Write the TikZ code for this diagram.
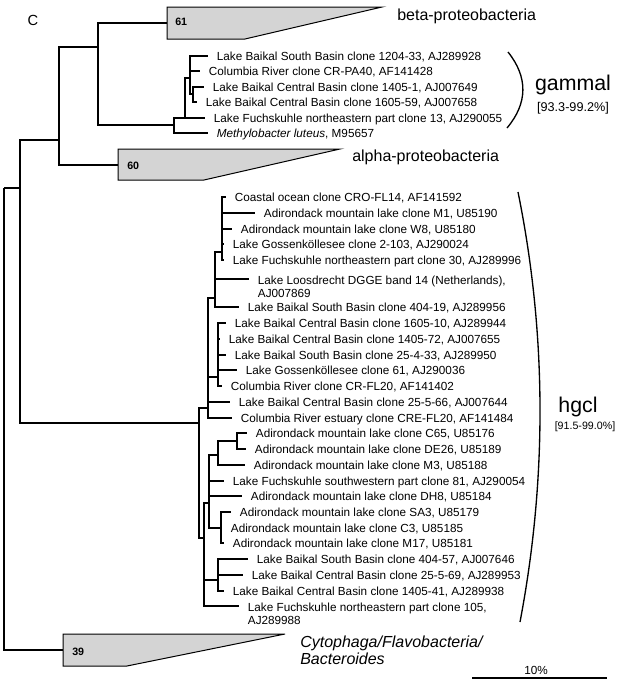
\documentclass[tikz,border=0pt]{standalone}
\usepackage{fontspec}
\setmainfont{Liberation Sans}
\begin{document}
\begin{tikzpicture}[x=0.75pt, y=-0.75pt,
    branch/.style={line width=1.1pt},
    leaf/.style={anchor=west, inner xsep=6.5pt, inner ysep=0pt, text height=7pt, text depth=0pt, font=\fontsize{8.8}{10.1}\selectfont},
    twoline/.style={anchor=north west, inner xsep=6.5pt, inner ysep=0pt, align=left, font=\fontsize{8.8}{10.1}\selectfont},
    clade/.style={draw, line width=0.75pt, fill=black!17},
    cladenum/.style={anchor=west, inner sep=0pt, font=\fontsize{8}{9}\selectfont\bfseries},
    group/.style={anchor=west, inner sep=0pt, font=\fontsize{12}{12.75}\selectfont},
    bigname/.style={anchor=base, inner sep=0pt, font=\fontsize{16}{18}\selectfont},
    simrange/.style={anchor=base, inner sep=0pt, font=\fontsize{9.5}{11}\selectfont},
    bracket/.style={line width=1pt}]
    \useasboundingbox (0,0) rectangle (620,686);
    \node[font=\fontsize{11}{13}\selectfont] (panel) at (33,20) {C};

    % collapsed clades
    \coordinate (beta) at (167,23);
    \coordinate (alpha) at (118,165);
    \coordinate (cyto) at (63,650);
    \draw[clade] (beta) ++(0,-16) -- ++(215,0) -- ++(-137,32) -- ++(-78,0) -- cycle;
    \draw[clade] (alpha) ++(0,-16) -- ++(222,0) -- ++(-136,31) -- ++(-86,0) -- cycle;
    \draw[clade] (cyto) ++(0,-16) -- ++(222,0) -- ++(-158,32) -- ++(-64,0) -- cycle;
    \node[cladenum] (n61) at (175,22) {61};
    \node[cladenum] (n60) at (127,166) {60};
    \node[cladenum] (n39) at (72,652) {39};
    \node[group] (betalab) at (397,16) {beta-proteobacteria};
    \node[group] (alphalab) at (352,157) {alpha-proteobacteria};
    \node[group, anchor=north west, align=left, font=\fontsize{12}{12.75}\selectfont\itshape] (cytolab) at (300,636)
        {Cytophaga/Flavobacteria/\\Bacteroides};

    % gammal leaves
    \node[leaf] (g1) at (208,56) {Lake Baikal South Basin clone 1204-33, AJ289928};
    \node[leaf] (g2) at (200,71) {Columbia River clone CR-PA40, AF141428};
    \node[leaf] (g3) at (204,87) {Lake Baikal Central Basin clone 1405-1, AJ007649};
    \node[leaf] (g4) at (197,102) {Lake Baikal Central Basin clone 1605-59, AJ007658};
    \node[leaf] (g5) at (205,118) {Lake Fuchskuhle northeastern part clone 13, AJ290055};
    \node[leaf] (g6) at (208,133) {\textit{Methylobacter luteus}, M95657};

    % hgcl leaves
    \node[leaf] (h1) at (226,197) {Coastal ocean clone CRO-FL14, AF141592};
    \node[leaf] (h2) at (255,213) {Adirondack mountain lake clone M1, U85190};
    \node[leaf] (h3) at (232,229) {Adirondack mountain lake clone W8, U85180};
    \node[leaf] (h4) at (224,244) {Lake Gossenköllesee clone 2-103, AJ290024};
    \node[leaf] (h5) at (224,260) {Lake Fuchskuhle northeastern part clone 30, AJ289996};
    \node[twoline] (h6) at (249,275.4) {Lake Loosdrecht DGGE band 14 (Netherlands),\\AJ007869};
    \node[leaf] (h7) at (239,307) {Lake Baikal South Basin clone 404-19, AJ289956};
    \node[leaf] (h8) at (226,323) {Lake Baikal Central Basin clone 1605-10, AJ289944};
    \node[leaf] (h9) at (220,339) {Lake Baikal Central Basin clone 1405-72, AJ007655};
    \node[leaf] (h10) at (226,355) {Lake Baikal South Basin clone 25-4-33, AJ289950};
    \node[leaf] (h11) at (237,370) {Lake Gossenköllesee clone 61, AJ290036};
    \node[leaf] (h12) at (222,386) {Columbia River clone CR-FL20, AF141402};
    \node[leaf] (h13) at (230,402) {Lake Baikal Central Basin clone 25-5-66, AJ007644};
    \node[leaf] (h14) at (232,418) {Columbia River estuary clone CRE-FL20, AF141484};
    \node[leaf] (h15) at (247,433) {Adirondack mountain lake clone C65, U85176};
    \node[leaf] (h16) at (246,449) {Adirondack mountain lake clone DE26, U85189};
    \node[leaf] (h17) at (245,465) {Adirondack mountain lake clone M3, U85188};
    \node[leaf] (h18) at (224,481) {Lake Fuchskuhle southwestern part clone 81, AJ290054};
    \node[leaf] (h19) at (242,496) {Adirondack mountain lake clone DH8, U85184};
    \node[leaf] (h20) at (231,512) {Adirondack mountain lake clone SA3, U85179};
    \node[leaf] (h21) at (222,528) {Adirondack mountain lake clone C3, U85185};
    \node[leaf] (h22) at (224,543) {Adirondack mountain lake clone M17, U85181};
    \node[leaf] (h23) at (248,559) {Lake Baikal South Basin clone 404-57, AJ007646};
    \node[leaf] (h24) at (243,575) {Lake Baikal Central Basin clone 25-5-69, AJ289953};
    \node[leaf] (h25) at (224,591) {Lake Baikal Central Basin clone 1405-41, AJ289938};
    \node[twoline] (h26) at (239,602.4) {Lake Fuchskuhle northeastern part clone 105,\\AJ289988};

    % inner nodes
    \coordinate (root) at (4,188);
    \coordinate (nA) at (20,188);
    \coordinate (proteo) at (59,140);
    \coordinate (betagam) at (98,47);
    \coordinate (gam) at (174,125);
    \coordinate (gB) at (185,118);
    \coordinate (gA) at (190,78);
    \coordinate (gAa) at (193,94);
    \coordinate (hgcl) at (199,423);
    \coordinate (hI) at (208,408);
    \coordinate (hJ) at (215,298);
    \coordinate (hL) at (222,252);
    \coordinate (hK) at (218,377);
    \coordinate (hM) at (204,538);
    \coordinate (hN) at (209,503);
    \coordinate (hO) at (218,455);
    \coordinate (hR) at (237,441);
    \coordinate (hP) at (221,528);
    \coordinate (hQ) at (218,580);

    % branches
    \draw[branch]
        (root) |- (nA)
        (root) |- (cyto)
        (nA) |- (proteo)
        (nA) |- (hgcl)
        (proteo) |- (betagam)
        (proteo) |- (alpha)
        (betagam) |- (beta)
        (betagam) |- (gam);
    \draw[branch]
        (gam) |- (gB)
        (gam) |- (g6.west)
        (gB) |- (gA)
        (gB) |- (g5.west)
        (gA) |- (g1.west)
        (gA) |- (g2.west)
        (gA) |- (gAa)
        (gAa) |- (g3.west)
        (gAa) |- (g4.west);
    \draw[branch]
        (hgcl) |- (hI)
        (hgcl) |- (hM)
        (hI) |- (hJ)
        (hI) |- (hK)
        (hI) |- (h13.west)
        (hI) |- (h14.west)
        (hJ) |- (hL)
        (hJ) |- ([yshift=-2.7pt]h6.north west)
        (hJ) |- (h7.west)
        (hL) |- (h1.west)
        (hL) |- (h2.west)
        (hL) |- (h3.west)
        (hL) |- (h4.west)
        (hL) |- (h5.west)
        (hK) |- (h8.west)
        (hK) |- (h9.west)
        (hK) |- (h10.west)
        (hK) |- (h11.west)
        (hK) |- (h12.west);
    \draw[branch]
        (hM) |- (hN)
        (hM) |- (hQ)
        (hM) |- ([yshift=-2.7pt]h26.north west)
        (hN) |- (hO)
        (hN) |- (h18.west)
        (hN) |- (h19.west)
        (hN) |- (hP)
        (hO) |- (hR)
        (hO) |- (h17.west)
        (hR) |- (h15.west)
        (hR) |- (h16.west)
        (hP) |- (h20.west)
        (hP) |- (h21.west)
        (hP) |- (h22.west)
        (hQ) |- (h23.west)
        (hQ) |- (h24.west)
        (hQ) |- (h25.west);

    % cluster brackets
    \coordinate (gamtop) at (508,52);
    \coordinate (gambot) at (507,128);
    \coordinate (hgcltop) at (518,192);
    \coordinate (hgclbot) at (520,622);
    \draw[bracket] (gamtop) .. controls +(20,25) and +(21,-25) .. (gambot);
    \draw[bracket] (hgcltop) .. controls +(29,143) and +(27,-142) .. (hgclbot);
    \node[bigname] (gamlab) at (573,90) {gammal};
    \node[simrange] (gamrange) at (573,111) {[93.3-99.2\%]};
    \node[bigname] (hgcllab) at (578,412) {hgcl};
    \node[simrange, font=\fontsize{8}{10}\selectfont] (hgclrange) at (585,429) {[91.5-99.0\%]};

    % scale bar
    \coordinate (bar0) at (472,678);
    \coordinate (bar1) at (607,678);
    \draw[branch] (bar0) -- (bar1);
    \node[simrange, font=\fontsize{8.8}{10}\selectfont] (barlab) at (536,674) {10\%};
\end{tikzpicture}
\end{document}
